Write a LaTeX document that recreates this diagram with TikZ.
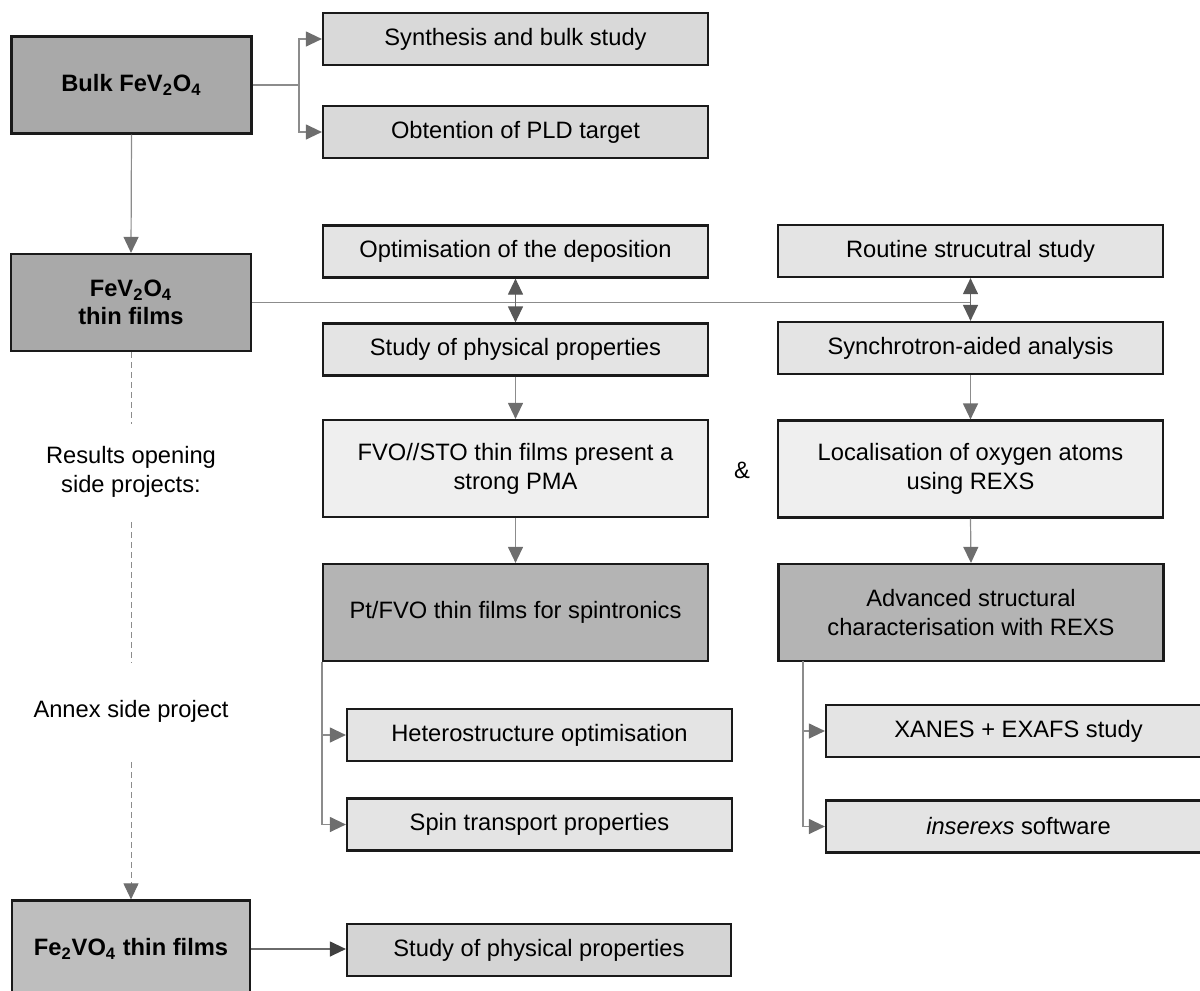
\documentclass[tikz,border=0pt]{standalone}
\usepackage{fontspec}
\setmainfont{Liberation Sans}
\usetikzlibrary{arrows.meta}
\definecolor{lineC}{HTML}{8C8C8C}
\definecolor{tipC}{HTML}{6E6E6E}
\definecolor{darkline}{HTML}{6A6A6A}
\definecolor{darktip}{HTML}{585858}
\definecolor{fillDark}{HTML}{A9A9A9}
\definecolor{fillMid}{HTML}{B4B4B4}
\definecolor{fillFe}{HTML}{BEBEBE}
\definecolor{fillTop}{HTML}{D9D9D9}
\definecolor{fillLight}{HTML}{E4E4E4}
\definecolor{fillPale}{HTML}{EFEFEF}
\definecolor{fillStudy}{HTML}{D4D4D4}
\definecolor{boxline}{HTML}{1A1A1A}
\begin{document}
\begin{tikzpicture}[x=0.5pt,y=-0.5pt,
  font=\fontsize{11.85}{14.5}\selectfont,
  box/.style={draw=boxline, line width=1.1pt, inner sep=2pt, align=center, text=black},
  wide/.style={minimum width=192.5pt},
  short/.style={minimum height=26pt},
  tall/.style={minimum height=48.5pt},
  main/.style={minimum width=120pt, minimum height=48.5pt,
    font=\fontsize{11.85}{14}\selectfont\bfseries},
  conn/.style={draw=lineC, line width=0.6pt},
  arr/.style={conn, -{Triangle[length=8pt,width=7.5pt,color=tipC]}},
  darr/.style={draw=darkline, line width=0.6pt,
    {Triangle[length=8pt,width=7.5pt,color=darktip]}-{Triangle[length=8pt,width=7.5pt,color=darktip]}},
  blackarr/.style={draw=darkline, line width=0.6pt, -{Triangle[length=8pt,width=7.5pt,color=black!75]}},
  note/.style={fill=white, inner sep=0pt, align=center, text=black}
]
\useasboundingbox (0,0) rectangle (1200,991);
\clip (0,0) rectangle (1200,991);

% left column main boxes
\node[box, main, fill=fillDark] (bulk) at (131.5,85) {Bulk FeV\textsubscript{2}O\textsubscript{4}};
\node[box, main, fill=fillDark] (thin) at (131,302.5) {FeV\textsubscript{2}O\textsubscript{4}\\thin films};
\node[box, main, fill=fillFe, minimum width=119pt] (fe) at (131,949) {Fe\textsubscript{2}VO\textsubscript{4} thin films};

% top right boxes
\node[box, wide, short, fill=fillTop] (synth) at (515.5,39) {Synthesis and bulk study};
\node[box, wide, short, fill=fillTop] (obt) at (515.5,132) {Obtention of PLD target};

% middle column
\node[box, wide, short, fill=fillLight] (opt) at (515.5,251.5) {Optimisation of the deposition};
\node[box, wide, short, fill=fillLight] (study) at (515.5,349.5) {Study of physical properties};
\node[box, wide, tall, fill=fillPale] (fvo) at (515.5,468.5) {FVO//STO thin films present a\\strong PMA};
\node[box, wide, tall, fill=fillMid] (pt) at (515.5,612.5) {Pt/FVO thin films for spintronics};
\node[box, wide, short, fill=fillLight] (hetero) at (539.5,735) {Heterostructure optimisation};
\node[box, wide, short, fill=fillLight] (spin) at (539.5,824.5) {Spin transport properties};
\node[box, wide, short, fill=fillStudy, minimum width=192pt] (study2) at (539,950) {Study of physical properties};

% right column
\node[box, wide, short, fill=fillLight] (routine) at (970.5,251) {Routine strucutral study};
\node[box, wide, short, fill=fillLight] (synchro) at (970.5,348) {Synchrotron-aided analysis};
\node[box, wide, tall, fill=fillPale] (loc) at (970.5,469) {Localisation of oxygen atoms\\using REXS};
\node[box, wide, tall, fill=fillMid] (adv) at (971,612.5) {Advanced structural\\characterisation with REXS};
\node[box, wide, short, fill=fillLight] (xanes) at (1018.5,731) {XANES + EXAFS study};
\node[box, wide, short, fill=fillLight] (ins) at (1018.5,826.5) {\textit{inserexs} software};

% & sign
\node[text=black] (amp) at (742,470) {\&};

% bulk branches
\draw[conn] (bulk.east) -- (299,85) coordinate (bj);
\draw[arr] (bj) |- (synth.west);
\draw[arr] (bj) |- (obt.west);
\draw[arr] (bulk.south) -- (thin.north);

% thin films horizontal line
\coordinate (tj) at (routine.south |- thin.east);
\draw[conn] (thin.east) -- (tj);
\draw[darr] (opt.south) -- (study.north);
\draw[darr] (routine.south) -- (synchro.north);

% vertical chains
\draw[arr] (study.south) -- (fvo.north);
\draw[arr] (synchro.south) -- (loc.north);
\draw[arr] (fvo.south) -- (pt.north);
\draw[arr] (loc.south) -- (adv.north);

% sub branches
\draw[arr] (pt.south west) |- (hetero.west);
\draw[arr] (pt.south west) |- (spin.west);
\coordinate (ad) at (803,661);
\draw[arr] (ad) |- (xanes.west);
\draw[arr] (ad) |- (ins.west);

% dashed left line
\draw[draw=lineC, line width=0.5pt, dash pattern=on 2.8pt off 2.2pt,
  -{Triangle[length=8pt,width=7.5pt,color=tipC]}] (thin.south) -- (fe.north);
\node[note, minimum height=48pt, minimum width=110pt] (res) at (131,472) {Results opening\\side projects:};
\node[note, minimum height=49pt, minimum width=140pt] (annex) at (131,711.5) {Annex side project};

% Fe2VO4 arrow
\draw[blackarr] (fe.east) -- (fe.east -| study2.west);
\end{tikzpicture}
\end{document}
